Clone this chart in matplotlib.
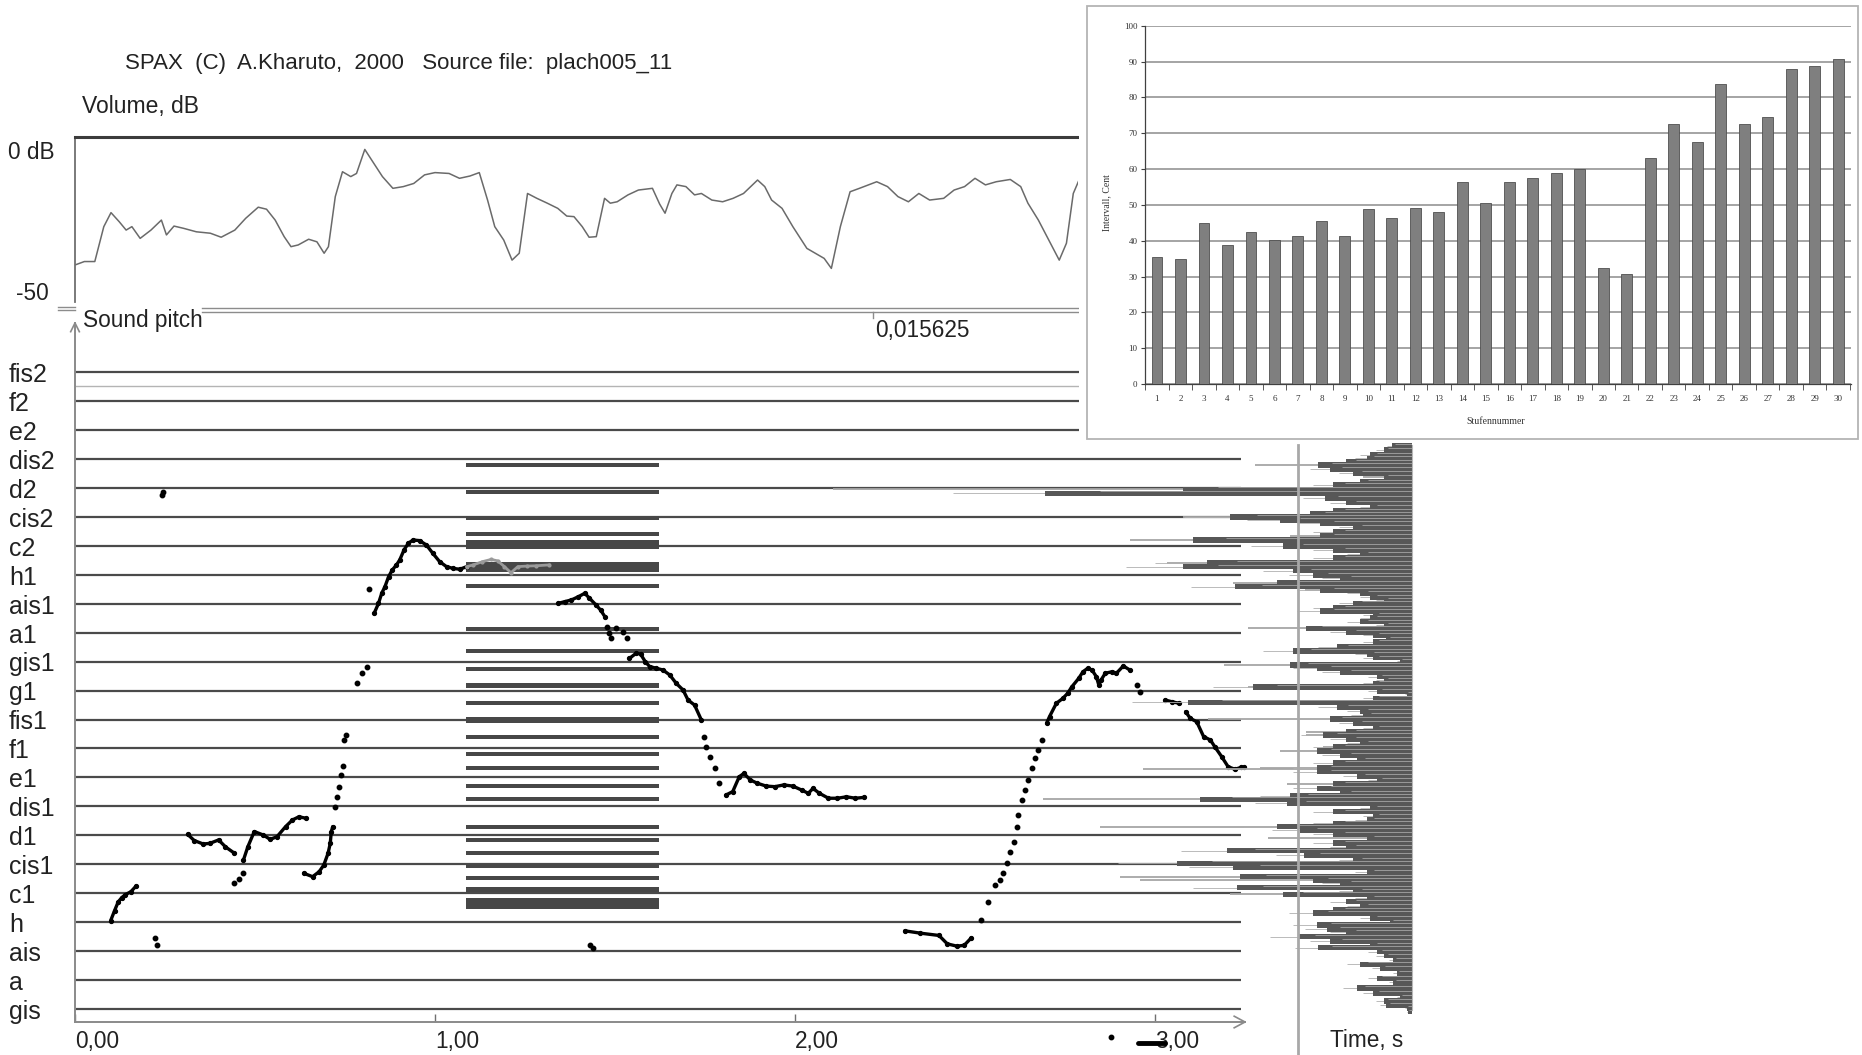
import matplotlib
matplotlib.use("Agg")
import matplotlib.pyplot as plt
import matplotlib.transforms as mtransforms
from matplotlib.patches import Rectangle
from matplotlib.lines import Line2D

W, H, DPI = 1862, 1055, 100
plt.rcParams['font.family'] = ['Liberation Sans', 'DejaVu Sans']

# ---------------------------------------------------------------- data
title_text = "SPAX  (C)  A.Kharuto,  2000   Source file:  plach005_11"
note_names = ["gis", "a", "ais", "h", "c1", "cis1", "d1", "dis1", "e1", "f1",
              "fis1", "g1", "gis1", "a1", "ais1", "h1", "c2", "cis2", "d2",
              "dis2", "e2", "f2", "fis2"]
time_ticks = [0.0, 1.0, 2.0, 3.0]
time_tick_labels = ["0,00", "1,00", "2,00", "3,00"]

# volume envelope (s, dB)
vol_t = [0.000, 0.026, 0.055, 0.080, 0.100, 0.123, 0.142, 0.158, 0.181, 0.211,
         0.240, 0.254, 0.275, 0.302, 0.337, 0.376, 0.406, 0.444, 0.474, 0.509,
         0.532, 0.556, 0.581, 0.600, 0.620, 0.649, 0.672, 0.692, 0.704, 0.723,
         0.743, 0.766, 0.782, 0.805, 0.824, 0.854, 0.883, 0.912, 0.941, 0.971,
         1.000, 1.039, 1.068, 1.097, 1.123, 1.146, 1.166, 1.191, 1.214, 1.234,
         1.257, 1.283, 1.312, 1.341, 1.366, 1.386, 1.409, 1.428, 1.448, 1.471,
         1.487, 1.506, 1.536, 1.565, 1.604, 1.624, 1.639, 1.658, 1.672, 1.697,
         1.721, 1.740, 1.769, 1.799, 1.828, 1.857, 1.896, 1.916, 1.935, 1.964,
         1.994, 2.033, 2.081, 2.101, 2.126, 2.153, 2.179, 2.227, 2.257, 2.286,
         2.315, 2.344, 2.374, 2.413, 2.442, 2.471, 2.500, 2.529, 2.559, 2.598,
         2.627, 2.647, 2.676, 2.705, 2.734, 2.754, 2.773, 2.789]
vol_db = [-40.2, -39.0, -39.0, -26.8, -21.9, -25.1, -28.0, -26.8, -30.9, -28.0,
          -24.5, -29.7, -26.6, -27.4, -28.6, -29.1, -30.5, -28.0, -23.9, -20.0,
          -20.7, -24.5, -30.3, -33.8, -33.2, -31.2, -32.1, -36.1, -33.8, -16.3,
          -7.6, -9.3, -8.2, 0.2, -3.5, -9.3, -13.4, -12.8, -11.7, -8.7,
          -7.9, -8.2, -9.9, -9.1, -7.9, -17.5, -26.8, -31.5, -38.5, -36.1,
          -15.2, -16.9, -18.6, -20.4, -23.1, -23.3, -26.8, -30.5, -30.3, -16.9,
          -18.6, -18.1, -15.7, -14.0, -13.4, -18.9, -22.1, -15.2, -12.2, -12.8,
          -15.7, -15.2, -17.5, -18.1, -16.9, -15.2, -10.5, -12.8, -17.5, -20.4,
          -26.8, -34.4, -37.9, -41.4, -26.8, -14.6, -13.4, -11.1, -12.8, -16.3,
          -18.1, -15.2, -17.5, -16.9, -14.0, -12.8, -9.9, -12.2, -11.1, -10.3,
          -12.8, -18.6, -24.5, -31.5, -38.5, -32.6, -15.2, -10.5]

# pitch track, semitones above gis (s, semitone); traced pieces
pitch_solid = [
    ([0.099, 0.110, 0.120, 0.130, 0.140, 0.155, 0.170],
     [3.05, 3.40, 3.70, 3.85, 3.95, 4.05, 4.25]),
    ([0.3125, 0.331, 0.356, 0.374, 0.399, 0.418, 0.443],
     [6.04, 5.82, 5.70, 5.72, 5.84, 5.60, 5.38]),
    ([0.468, 0.480, 0.498, 0.523, 0.542, 0.561, 0.585, 0.604, 0.622, 0.641],
     [5.15, 5.60, 6.13, 6.01, 5.86, 5.95, 6.30, 6.53, 6.64, 6.59]),
    ([0.635, 0.660, 0.678, 0.691, 0.703, 0.709, 0.712, 0.716],
     [4.69, 4.57, 4.74, 4.97, 5.38, 5.72, 6.13, 6.30]),
    ([0.831, 0.843, 0.852, 0.861, 0.871, 0.881, 0.893, 0.902, 0.914, 0.926,
      0.939, 0.957, 0.976, 0.994, 1.013, 1.032, 1.050, 1.069, 1.088],
     [13.67, 14.01, 14.36, 14.59, 14.93, 15.16, 15.34, 15.51, 15.86, 16.09,
      16.20, 16.18, 16.03, 15.74, 15.45, 15.28, 15.22, 15.19, 15.28]),
    ([1.342, 1.360, 1.379, 1.398, 1.416, 1.429, 1.447, 1.460, 1.472],
     [14.01, 14.07, 14.13, 14.24, 14.36, 14.19, 13.96, 13.78, 13.55]),
    ([1.540, 1.559, 1.571, 1.584, 1.596, 1.615, 1.633, 1.652, 1.670, 1.689,
      1.703, 1.721, 1.740],
     [12.11, 12.29, 12.26, 12.00, 11.83, 11.77, 11.71, 11.54, 11.25, 11.02,
      10.67, 10.50, 9.98]),
    ([1.808, 1.827, 1.845, 1.858, 1.876, 1.895, 1.920, 1.944, 1.969, 1.994,
      2.019, 2.037, 2.050, 2.068, 2.093, 2.118, 2.143, 2.168, 2.192],
     [7.39, 7.51, 8.02, 8.14, 7.91, 7.80, 7.70, 7.68, 7.74, 7.70,
      7.56, 7.45, 7.62, 7.45, 7.28, 7.28, 7.33, 7.28, 7.31]),
    ([2.305, 2.348, 2.400, 2.423, 2.450, 2.470, 2.490],
     [2.70, 2.62, 2.54, 2.25, 2.17, 2.20, 2.46]),
    ([2.699, 2.707, 2.726, 2.744, 2.757, 2.769, 2.788, 2.800, 2.813, 2.825,
      2.837, 2.844, 2.850, 2.862, 2.881, 2.893, 2.912, 2.930],
     [9.87, 10.10, 10.56, 10.73, 10.90, 11.13, 11.42, 11.65, 11.77, 11.71,
      11.48, 11.19, 11.36, 11.60, 11.65, 11.60, 11.85, 11.71]),
    ([3.029, 3.048, 3.067], [10.67, 10.61, 10.56]),
    ([3.085, 3.098, 3.116, 3.135, 3.154, 3.166, 3.185, 3.203, 3.222, 3.240, 3.246],
     [10.27, 10.04, 9.92, 9.41, 9.29, 9.06, 8.72, 8.37, 8.28, 8.35, 8.35]),
]
pitch_dotted = [
    ([0.222, 0.228], [2.45, 2.20]),
    ([0.241, 0.245], [17.75, 17.85]),
    ([0.443, 0.455, 0.467], [4.34, 4.50, 4.69]),
    ([0.722, 0.728, 0.734, 0.740, 0.744, 0.746, 0.753],
     [6.99, 7.33, 7.68, 8.08, 8.39, 9.29, 9.46]),
    ([0.784, 0.796, 0.811, 0.818], [11.25, 11.60, 11.83, 14.50]),
    ([1.431, 1.438], [2.20, 2.12]),
    ([1.478, 1.484, 1.490, 1.503, 1.522, 1.534],
     [13.20, 12.98, 12.80, 13.15, 13.03, 12.80]),
    ([1.746, 1.752, 1.765, 1.777, 1.789], [9.41, 9.06, 8.72, 8.31, 7.80]),
    ([2.516, 2.536, 2.556, 2.569, 2.579, 2.588, 2.597, 2.607, 2.616, 2.620,
      2.630, 2.639, 2.648, 2.657, 2.667, 2.676, 2.685],
     [3.07, 3.69, 4.30, 4.46, 4.69, 5.03, 5.43, 5.78, 6.30, 6.70,
      7.22, 7.56, 7.91, 8.31, 8.66, 8.95, 9.29]),
    ([2.949, 2.959], [11.19, 10.96]),
    ([2.878], [-0.96]),
]
pitch_grey_t = [1.088, 1.106, 1.131, 1.156, 1.174, 1.193, 1.211, 1.230, 1.255, 1.280, 1.317]
pitch_grey_s = [15.28, 15.34, 15.45, 15.53, 15.48, 15.28, 15.07, 15.28, 15.30, 15.31, 15.34]
marker_stroke_t = [2.953, 3.028]
marker_stroke_s = [-1.17, -1.17]

# horizontal bands in the 1.09–1.62 s window (semitone, thickness in semitones)
band_t0, band_t1 = 1.086, 1.622
band_pitch = [18.79, 17.85, 16.95, 16.40, 16.03, 15.26, 14.62, 13.13, 12.38,
              11.73, 11.17, 10.56, 9.98, 9.39, 8.81, 8.34, 7.70, 7.26, 6.28,
              5.84, 5.40, 4.95, 4.51, 4.13, 3.63]
band_width = [0.14, 0.14, 0.14, 0.14, 0.31, 0.34, 0.14, 0.14, 0.14,
              0.14, 0.17, 0.14, 0.20, 0.14, 0.14, 0.14, 0.14, 0.14, 0.14,
              0.14, 0.14, 0.14, 0.14, 0.20, 0.38]

# pitch distribution on the right (semitone, level)
spec_pitch = [19.45, 19.31, 19.14, 19.02, 18.91, 18.79, 18.64, 18.50, 18.37, 18.21,
              18.10, 17.95, 17.81, 17.64, 17.49, 17.35, 17.21, 17.10, 17.00, 16.89,
              16.78, 16.64, 16.49, 16.35, 16.20, 15.99, 15.85, 15.72, 15.57, 15.42,
              15.28, 15.14, 14.99, 14.88, 14.73, 14.59, 14.47, 14.36, 14.24, 14.13,
              14.01, 13.86, 13.75, 13.61, 13.50, 13.38, 13.26, 13.15, 13.03, 12.92,
              12.78, 12.67, 12.51, 12.37, 12.25, 12.14, 12.02, 11.88, 11.77, 11.63,
              11.48, 11.36, 11.25, 11.13, 10.98, 10.87, 10.73, 10.59, 10.44, 10.29,
              10.16, 10.02, 9.87, 9.72, 9.58, 9.46, 9.32, 9.18, 9.06, 8.92,
              8.77, 8.60, 8.49, 8.34, 8.20, 8.05, 7.91, 7.77, 7.62, 7.47,
              7.36, 7.24, 7.10, 6.93, 6.82, 6.67, 6.53, 6.41, 6.30, 6.18,
              6.04, 5.90, 5.74, 5.61, 5.47, 5.32, 5.15, 5.03, 4.89, 4.74,
              4.57, 4.46, 4.34, 4.19, 4.08, 3.96, 3.82, 3.71, 3.57, 3.42,
              3.31, 3.15, 3.02, 2.90, 2.76, 2.65, 2.50, 2.35, 2.21, 2.12,
              1.98, 1.84, 1.69, 1.54, 1.41, 1.23, 1.06, 0.92, 0.72, 0.54,
              0.42, 0.28, 0.14, 0.02, -0.09]
spec_level = [3.5, 4.9, 7.2, 7.8, 11.3, 16.2, 14.1, 10.1, 4.9, 9.0,
              13.6, 39.4, 63.3, 15.0, 11.3, 7.2, 13.6, 17.6, 31.4, 22.8,
              15.9, 10.1, 13.6, 15.9, 37.7, 22.2, 13.6, 9.0, 13.6, 35.4,
              39.4, 20.5, 17.0, 12.4, 23.3, 30.5, 15.9, 9.0, 7.2, 4.9,
              10.1, 13.6, 15.9, 6.7, 7.2, 9.0, 4.9, 18.2, 11.3, 6.7,
              4.4, 6.7, 13.0, 20.5, 7.8, 6.7, 2.1, 21.0, 16.4, 12.4,
              6.1, 4.9, 6.7, 27.4, 6.1, 0.9, 6.7, 38.6, 13.0, 9.0,
              8.4, 14.1, 10.1, 6.7, 11.3, 15.3, 11.3, 9.0, 13.6, 16.4,
              12.4, 9.5, 13.6, 16.4, 16.4, 9.5, 6.1, 13.6, 16.4, 12.4,
              21.0, 36.6, 21.6, 7.2, 13.6, 6.7, 7.8, 13.6, 23.3, 19.3,
              13.6, 7.8, 13.6, 11.3, 31.9, 18.7, 10.1, 40.6, 30.8, 7.8,
              29.7, 17.0, 12.4, 30.2, 10.1, 22.2, 7.8, 11.3, 9.0, 13.6,
              17.0, 7.2, 3.8, 16.4, 14.7, 11.3, 19.6, 14.1, 7.2, 16.2,
              6.1, 4.9, 3.2, 9.0, 5.5, 2.6, 6.1, 3.2, 9.5, 6.7,
              2.1, 4.9, 4.4, 0.9, 0.7]
spec_trace_pitch = [18.79, 18.37, 17.95, 17.00, 16.35, 16.20, 15.42, 14.73, 14.47,
                    13.15, 11.88, 11.13, 10.02, 9.58, 9.46, 9.06, 8.92, 8.34, 8.28,
                    7.77, 7.24, 6.30, 5.90, 4.57, 4.46, 3.96]
spec_trace_level = [27.1, 8.4, 99.8, 39.4, 21.0, 48.6, 42.3, 30.9, 18.4,
                    28.2, 32.5, 28.2, 35.1, 18.2, 18.2, 15.3, 22.8, 26.2, 46.3,
                    21.6, 63.6, 53.8, 24.8, 50.3, 46.9, 31.4]

# interval chart: step number vs interval size in cents
steps = list(range(1, 31))
cents = [35.5, 34.8, 44.8, 38.8, 42.3, 40.2, 41.2, 45.5, 41.2, 48.8,
         46.3, 49.2, 48.0, 56.4, 50.6, 56.5, 57.4, 58.8, 59.9, 32.3,
         30.6, 63.1, 72.7, 67.5, 83.8, 72.7, 74.4, 88.0, 88.8, 90.7]

# ---------------------------------------------------------------- layout helpers
fig = plt.figure(figsize=(W / DPI, H / DPI), dpi=DPI)
fig.patch.set_facecolor("white")


def px_axes(x0, y0, x1, y1, z=0):
    ax = fig.add_axes([x0 / W, 1 - y1 / H, (x1 - x0) / W, (y1 - y0) / H])
    ax.set_zorder(z)
    ax.patch.set_visible(False)
    return ax


def fig_text(x, y, s, **kw):
    return fig.text(x / W, 1 - y / H, s, **kw)


def fig_line(xs, ys, **kw):
    fig.add_artist(Line2D([x / W for x in xs], [1 - y / H for y in ys],
                          transform=fig.transFigure, **kw))


# time scale shared by the volume and pitch panels: 75 px origin, 360 px per second
T0_PX, PX_PER_S = 75, 360.0
GIS_PX, PX_PER_ST = 1009, 28.95
P_TOP, P_BOT, P_RIGHT = 323, 1022, 1413

GREY_AXIS = "#8a8a8a"
LINE_DARK = "#4a4a4a"
TXT = "#222222"
FS = 16.3

# ---------------------------------------------------------------- header texts
fig_text(125, 63, title_text, fontsize=16, va="center", ha="left", color=TXT)
fig_text(82, 106, "Volume, dB", fontsize=16.5, va="center", ha="left", color=TXT)

# ---------------------------------------------------------------- volume panel
V_TOP, V_BOT, V_RIGHT = 137, 302, 1078
ax_v = px_axes(T0_PX, V_TOP, V_RIGHT, V_BOT)
ax_v.set_xlim(0, (V_RIGHT - T0_PX) / PX_PER_S)
ax_v.set_ylim((150 - V_BOT) / 2.86, (150 - V_TOP) / 2.86)
ax_v.plot(vol_t, vol_db, color="#6a6a6a", lw=1.1)
for side in ("right", "bottom"):
    ax_v.spines[side].set_visible(False)
ax_v.spines["top"].set_color("#3c3c3c")
ax_v.spines["top"].set_linewidth(2.2)
ax_v.spines["left"].set_color("#707070")
ax_v.spines["left"].set_linewidth(1.3)
ax_v.set_xticks([])
ax_v.set_yticks([])
vtrans = mtransforms.blended_transform_factory(fig.transFigure, ax_v.transData)
ax_v.text(8 / W, -0.8, "0 dB", transform=vtrans, fontsize=FS, va="center", ha="left", color=TXT)
ax_v.text(16 / W, -50, "-50", transform=vtrans, fontsize=FS, va="center", ha="left", color=TXT)

# separator double rule and sample-period tick
fig_line([202, V_RIGHT], [308, 308], color="#8c8c8c", lw=1.0)
fig_line([202, V_RIGHT], [312, 312], color="#8c8c8c", lw=1.0)
fig_line([58, 75], [307, 307], color="#8c8c8c", lw=1.0)
fig_line([58, 75], [310, 310], color="#8c8c8c", lw=1.0)
fig_line([873, 873], [312, 318], color="#8c8c8c", lw=1.0)
fig_text(83, 321, "Sound pitch", fontsize=FS, va="center", ha="left", color=TXT)
fig_text(875, 331, "0,015625", fontsize=FS, va="center", ha="left", color=TXT)

# ---------------------------------------------------------------- pitch panel
ax_p = px_axes(T0_PX, P_TOP, P_RIGHT, P_BOT)
ylo = (GIS_PX - P_BOT) / PX_PER_ST
yhi = (GIS_PX - P_TOP) / PX_PER_ST
ax_p.set_xlim(0, (P_RIGHT - T0_PX) / PX_PER_S)
ax_p.set_ylim(ylo, yhi)
t_end = 3.24

ax_p.hlines(range(len(note_names)), 0, t_end, color=LINE_DARK, lw=1.6, zorder=1)
ax_p.hlines([21.52], 0, t_end, color="#b4b4b4", lw=1.0, zorder=1)

ax_p.barh(band_pitch, band_t1 - band_t0, left=band_t0, height=band_width,
          color="#474747", zorder=2)

for ts, ss in pitch_solid:
    ax_p.plot(ts, ss, color="black", lw=2.4, marker="o", ms=2.8,
              solid_capstyle="round", zorder=4)
for ts, ss in pitch_dotted:
    ax_p.plot(ts, ss, ls="none", color="black", marker="o", ms=3.2,
              zorder=4, clip_on=False)
ax_p.plot(pitch_grey_t, pitch_grey_s, color="#9a9a9a", lw=2.0, marker="o", ms=2.0, zorder=4)
ax_p.plot(marker_stroke_t, marker_stroke_s, color="black", lw=3.5, zorder=4,
          clip_on=False, solid_capstyle="round")

for side in ("right", "top"):
    ax_p.spines[side].set_visible(False)
ax_p.spines["left"].set_color(GREY_AXIS)
ax_p.spines["left"].set_linewidth(1.4)
ax_p.spines["bottom"].set_color(GREY_AXIS)
ax_p.spines["bottom"].set_linewidth(1.4)
ax_p.spines["bottom"].set_bounds(0, 3.25)
ax_p.set_yticks([])
ax_p.set_xticks(time_ticks)
ax_p.set_xticklabels(time_tick_labels)
ax_p.tick_params(axis="x", direction="in", length=6, width=1.0, color="#707070",
                 labelsize=FS, pad=6, labelcolor=TXT)
for lab in ax_p.get_xticklabels():
    lab.set_horizontalalignment("left")
# axis arrowheads
ax_p.plot([3.22, 3.25, 3.22], [ylo + 0.2, ylo, ylo - 0.2], color=GREY_AXIS, lw=1.2, clip_on=False)
ax_p.plot([-0.012, 0, 0.012], [yhi - 0.3, yhi, yhi - 0.3], color=GREY_AXIS, lw=1.2, clip_on=False)

ptrans = mtransforms.blended_transform_factory(fig.transFigure, ax_p.transData)
for i, name in enumerate(note_names):
    ax_p.text(9 / W, i - 0.1, name, transform=ptrans, fontsize=18, va="center",
              ha="left", color=TXT)

fig_text(1330, 1040, "Time, s", fontsize=FS, va="center", ha="left", color=TXT)

# ---------------------------------------------------------------- pitch distribution
S_LEFT, S_RIGHT = 832, 1412
ax_s = px_axes(S_LEFT, P_TOP, S_RIGHT, P_BOT, z=0.5)
ax_s.set_xlim(100, 0)
ax_s.set_ylim(ylo, yhi)
ax_s.axis("off")
ax_s.hlines(spec_trace_pitch, 0, spec_trace_level, color="#a6a6a6", lw=1.3, zorder=1)
ax_s.barh(spec_pitch, spec_level, left=0, height=0.19, color="#575757", zorder=2)
ax_s.hlines(spec_pitch, 0, [v * 1.25 for v in spec_level], color="#b0b0b0", lw=0.6, zorder=1)
ax_s.hlines([p + 0.07 for p in spec_pitch], 0, [v * 0.85 for v in spec_level],
            color="#a4a4a4", lw=0.6, zorder=3)
scale_level = (S_RIGHT - 1298) / 5.8
ax_s.plot([scale_level, scale_level], [(GIS_PX - 445) / PX_PER_ST, (GIS_PX - H) / PX_PER_ST],
          color="#a8a8a8", lw=2.0, clip_on=False, zorder=4)
ax_s.plot([0, 0], [(GIS_PX - 445) / PX_PER_ST, ylo + 0.4], color="#b8b8b8", lw=0.8, clip_on=False)

# ---------------------------------------------------------------- interval chart
fig.add_artist(Rectangle((1079 / W, 1 - 441 / H), (W - 1079) / W, 441 / H,
                         transform=fig.transFigure, fc="white", ec="none", zorder=3))
fig.add_artist(Rectangle((1087 / W, 1 - 439 / H), (1858 - 1087) / W, (439 - 6) / H,
                         transform=fig.transFigure, fc="none", ec="#b4b4b4", lw=1.3, zorder=4))

ax_i = px_axes(1144.5, 25.7, 1850.6, 384, z=5)
ax_i.set_xlim(0.47, 30.53)
ax_i.set_ylim(0, 100)
ax_i.bar(steps, cents, width=0.46, color="#7f7f7f", edgecolor="#505050", lw=0.6, zorder=3)
ax_i.set_yticks(range(0, 101, 10))
ax_i.yaxis.grid(True, color="#8c8c8c", lw=1.1)
ax_i.set_axisbelow(True)
for side in ("top", "right"):
    ax_i.spines[side].set_visible(False)
for side in ("left", "bottom"):
    ax_i.spines[side].set_color("#404040")
    ax_i.spines[side].set_linewidth(0.9)
ax_i.set_xticks(steps)
ax_i.set_xticks([s + 0.5 for s in range(0, 31)], minor=True)
ax_i.tick_params(axis="x", which="major", length=0, pad=8)
ax_i.tick_params(axis="x", which="minor", length=4, direction="out", color="#404040")
ax_i.tick_params(axis="y", length=3, direction="out", color="#404040", pad=2)
for lab in ax_i.get_xticklabels() + ax_i.get_yticklabels():
    lab.set_fontfamily("Liberation Serif")
    lab.set_fontsize(6.5)
    lab.set_color("#333333")
fig_text(1496, 421, "Stufennummer", fontsize=7, family="Liberation Serif",
         ha="center", va="center", color="#333333", zorder=6)
fig_text(1107, 203, "Intervall, Cent", fontsize=7, family="Liberation Serif",
         rotation=90, ha="center", va="center", color="#333333", zorder=6)

fig.savefig("out.png", dpi=DPI, facecolor="white")
